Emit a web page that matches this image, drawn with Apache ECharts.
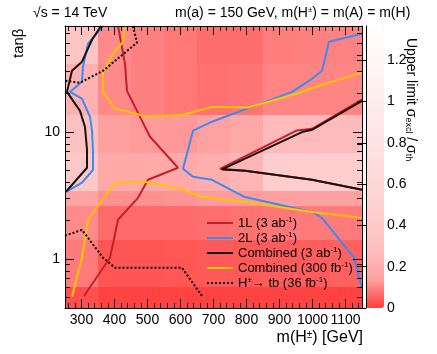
<!DOCTYPE html>
<html>
<head>
<meta charset="utf-8">
<title>Upper limit scan</title>
<script src="https://cdn.jsdelivr.net/npm/echarts@6/dist/echarts.min.js"></script>
<style>
html, body { margin: 0; padding: 0; background: #fff; }
#chart { width: 437px; height: 354px; }
</style>
</head>
<body>
<div id="chart"></div>
<script>
const FONT = '"Liberation Sans", Arial, sans-serif'

// bin edges of the limit map
const xEdges = [250, 350, 450, 550, 650, 750, 850, 950, 1050, 1150]
const yEdges = [0.41, 0.6, 1.4, 2.6, 3.4, 6.8, 13.6, 34, 68]

// upper limit per cell, rows from low tanb to high tanb
const limitRows = [
  [0.027, 0.008, 0.008, 0.008, 0.008, 0.008, 0.01, 0.01, 0.01],
  [0.085, 0.034, 0.034, 0.035, 0.04, 0.04, 0.045, 0.045, 0.05],
  [0.106, 0.063, 0.063, 0.065, 0.07, 0.075, 0.08, 0.085, 0.085],
  [0.15, 0.115, 0.115, 0.12, 0.13, 0.13, 0.137, 0.14, 0.14],
  [0.39, 0.18, 0.18, 0.18, 0.2, 0.24, 0.45, 0.45, 0.45],
  [0.31, 0.137, 0.13, 0.126, 0.14, 0.176, 0.27, 0.27, 0.27],
  [0.215, 0.104, 0.093, 0.082, 0.071, 0.078, 0.1, 0.1, 0.1],
  [0.36, 0.106, 0.093, 0.082, 0.068, 0.068, 0.089, 0.093, 0.096]
]

// exclusion contours [m(H+), tanb]
const line1L = [[410.6, 68], [431.8, 34.3], [437.9, 21.0], [477.3, 13.1], [507.6, 9.14], [592.4, 5.21],
  [501.5, 4.19], [471.2, 3.02], [410.6, 2.03], [386.4, 1.02], [307.6, 0.51]]
const line1LWedge = [[1150, 17.9], [998.5, 10.56], [953, 10.24], [719.7, 5.11], [795.5, 4.93], [998.5, 4.19], [1150, 3.49]]
const line2L = [[365, 68], [319.7, 49.3], [304.5, 32.5], [301.5, 24.8], [265, 20.6], [301.5, 18.2], [325.8, 13.1],
  [331.8, 10.2], [334.8, 7.22], [334.8, 5.02], [301.5, 3.97], [253, 3.37]]
const line2LRight = [[1150, 59.1], [1050, 51.1], [1028.8, 30.2], [998.5, 26.1], [937.9, 20.6], [695.5, 12.0],
  [637.9, 10.2], [607.6, 5.11], [637.9, 4.42], [695.5, 4.19], [792.4, 3.08], [998.5, 2.34], [1028.8, 2.10],
  [1125.8, 1.02], [1150, 0.58]]
const lineComb = [[359, 68], [331.8, 53], [301.5, 35.6], [271.2, 30.2], [256, 20.6], [295.5, 14.6], [310.6, 10.9],
  [316.7, 7.22], [316.7, 5.21], [253, 3.37]]
const lineCombWedge = [[1150, 17.5], [998.5, 10.37], [968.2, 9.95], [725.8, 5.05], [795.5, 4.93], [998.5, 4.19], [1150, 3.49]]
const lineComb300 = [[431.8, 68], [425.8, 51.1], [395.5, 41.1], [365.2, 29.7], [365.2, 20.6], [401.5, 15.2],
  [501.5, 13.1], [607.6, 13.6], [698.5, 15.7], [804.5, 15.5], [962, 20.3], [1001.5, 22.2], [1150, 29.2]]
const lineComb300Low = [[271.2, 0.502], [301.5, 1.02], [319.7, 2.03], [401.5, 3.97], [492.4, 4.04], [592.4, 3.62],
  [665.2, 3.08], [792.4, 2.81], [998.5, 2.34], [1150, 2.10]]
const lineTb = [[456, 68], [468.2, 50.2], [365.2, 30.2], [295.5, 24.3], [250, 25.2]]
const lineTbLow = [[250, 1.52], [301.5, 1.69], [365.2, 1.02], [401.5, 0.85], [604.5, 0.85], [665.2, 0.51]]

// ticks
const xMajor = [300, 400, 500, 600, 700, 800, 900, 1000, 1100]
const xMinor = []
for (let v = 260; v < 1150; v += 20) if (v % 100 !== 0) xMinor.push(v)
const yMajor = [1, 10]
const yMinor = [0.5, 0.6, 0.7, 0.8, 0.9, 2, 3, 4, 5, 6, 7, 8, 9, 20, 30, 40, 50, 60]
const zMajor = [0, 0.2, 0.4, 0.6, 0.8, 1, 1.2]
const Z_MAX = 1.366

const barColors = ['#ff3c3c', '#ffa0a0', '#ffbcbc', '#ffcaca', '#ffd4d4', '#ffdcdc',
  '#ffe3e3', '#ffeaea', '#fff1f1', '#fff8f8', '#ffffff']

const RED = '#c81e28'
const BLUE = '#3d8bf2'
const BLACK = '#151510'
const YELLOW = '#ffc400'

const cells = []
limitRows.forEach((row, j) => {
  row.forEach((v, i) => {
    cells.push([xEdges[i], xEdges[i + 1], yEdges[j], yEdges[j + 1], v])
  })
})

const renderCell = (params, api) => {
  const p0 = api.coord([api.value(0), api.value(3)])
  const p1 = api.coord([api.value(1), api.value(2)])
  const x0 = Math.round(p0[0])
  const y0 = Math.round(p0[1])
  const x1 = Math.round(p1[0])
  const y1 = Math.round(p1[1])
  return {
    type: 'rect',
    shape: { x: x0, y: y0, width: x1 - x0, height: y1 - y0 },
    style: { fill: api.visual('color') }
  }
}

const line = { color: '#000', width: 1 }
const xBase = { type: 'value', min: 250, max: 1150, gridIndex: 0, z: 5, splitLine: { show: false } }
const yBase = { type: 'log', logBase: 10, min: 0.41, max: 68, gridIndex: 0, z: 5, splitLine: { show: false } }

const contour = (name, data, color, dotted) => ({
  name,
  type: 'line',
  data,
  xAxisIndex: 0,
  yAxisIndex: 0,
  symbol: 'none',
  z: 3,
  silent: true,
  lineStyle: { color, width: 2, type: dotted ? [2, 2] : 'solid' },
  itemStyle: { color }
})

const names = ['1L (3 ab-1)', '2L (3 ab-1)', 'Combined (3 ab-1)', 'Combined (300 fb-1)', 'H±→ tb (36 fb-1)']

const chart = echarts.init(document.getElementById('chart'))

chart.setOption({
  animation: false,
  backgroundColor: '#fff',
  textStyle: { fontFamily: FONT },
  grid: [
    { left: 65, top: 26, width: 297, height: 282, show: false },
    { left: 366, top: 26, width: 18, height: 282, show: false }
  ],
  xAxis: [
    {
      ...xBase, position: 'bottom',
      axisLine: { show: true, lineStyle: line },
      axisTick: { inside: true, length: 9, customValues: xMajor, lineStyle: line },
      axisLabel: {
        customValues: xMajor, margin: 5, color: '#000', fontSize: 14, fontFamily: FONT,
        formatter: (v) => String(v)
      }
    },
    {
      ...xBase, position: 'top',
      axisLine: { show: true, lineStyle: line },
      axisTick: { inside: true, length: 9, customValues: xMajor, lineStyle: line },
      axisLabel: { show: false }
    },
    {
      ...xBase, position: 'bottom',
      axisLine: { show: false },
      axisTick: { inside: true, length: 5, customValues: xMinor, lineStyle: line },
      axisLabel: { show: false }
    },
    {
      ...xBase, position: 'top',
      axisLine: { show: false },
      axisTick: { inside: true, length: 5, customValues: xMinor, lineStyle: line },
      axisLabel: { show: false }
    },
    { type: 'value', gridIndex: 1, min: 0, max: 1, show: false }
  ],
  yAxis: [
    {
      ...yBase, position: 'left',
      axisLine: { show: true, lineStyle: line },
      axisTick: { inside: true, length: 9, customValues: yMajor, lineStyle: line },
      axisLabel: { customValues: yMajor, margin: 5, color: '#000', fontSize: 14, fontFamily: FONT }
    },
    {
      ...yBase, position: 'right',
      axisLine: { show: true, lineStyle: line },
      axisTick: { inside: true, length: 9, customValues: yMajor, lineStyle: line },
      axisLabel: { show: false }
    },
    {
      ...yBase, position: 'left',
      axisLine: { show: false },
      axisTick: { inside: true, length: 5, customValues: yMinor, lineStyle: line },
      axisLabel: { show: false }
    },
    {
      ...yBase, position: 'right',
      axisLine: { show: false },
      axisTick: { inside: true, length: 5, customValues: yMinor, lineStyle: line },
      axisLabel: { show: false }
    },
    {
      type: 'value', gridIndex: 1, position: 'right', min: 0, max: Z_MAX, z: 5,
      splitLine: { show: false },
      axisLine: { show: true, lineStyle: line },
      axisTick: { inside: true, length: 9, customValues: zMajor, lineStyle: line },
      axisLabel: { customValues: zMajor, margin: 3, color: '#000', fontSize: 14, fontFamily: FONT }
    }
  ],
  visualMap: {
    type: 'continuous',
    min: 0,
    max: Z_MAX,
    seriesIndex: 0,
    dimension: 4,
    orient: 'vertical',
    left: 366,
    top: 26,
    itemWidth: 18,
    itemHeight: 282,
    padding: 0,
    calculable: false,
    hoverLink: false,
    inRange: { color: barColors }
  },
  legend: {
    data: names,
    orient: 'vertical',
    left: 206,
    top: 216,
    padding: 0,
    itemWidth: 26,
    itemHeight: 12,
    itemGap: 1,
    selectedMode: false,
    itemStyle: { opacity: 0 },
    textStyle: {
      color: '#000', fontSize: 13, fontFamily: FONT, lineHeight: 14,
      rich: { sup: { fontSize: 8, verticalAlign: 'top', lineHeight: 14, fontFamily: FONT } }
    },
    formatter: (n) => n.replace('-1', '{sup|-1}').replace('±', '{sup|±}')
  },
  graphic: [
    {
      type: 'text', x: 33, y: 13,
      style: { text: '√s = 14 TeV', font: '14px ' + FONT, fill: '#000', verticalAlign: 'middle' }
    },
    {
      type: 'text', x: 175, y: 13,
      style: {
        text: 'm(a) = 150 GeV, m(H{sup|±}) = m(A) = m(H)', font: '14px ' + FONT, fill: '#000', verticalAlign: 'middle',
        rich: { sup: { fontSize: 8, verticalAlign: 'top', fontFamily: FONT } }
      }
    },
    {
      type: 'text', x: 19, y: 58, rotation: Math.PI / 2,
      style: { text: 'tanβ', font: '15px ' + FONT, fill: '#000', align: 'left', verticalAlign: 'middle' }
    },
    {
      type: 'text', x: 363, y: 338,
      style: {
        text: 'm(H{sup|±}) [GeV]', font: '16px ' + FONT, fill: '#000', align: 'right', verticalAlign: 'middle',
        rich: { sup: { fontSize: 10, verticalAlign: 'top', fontFamily: FONT } }
      }
    },
    {
      type: 'text', x: 411, y: 38, rotation: -Math.PI / 2,
      style: {
        text: 'Upper limit σ{sub|excl} / σ{sub|th}', font: '14px ' + FONT, fill: '#000', align: 'left', verticalAlign: 'middle',
        rich: { sub: { fontSize: 9, verticalAlign: 'bottom', fontFamily: FONT } }
      }
    }
  ],
  series: [
    {
      type: 'custom',
      renderItem: renderCell,
      data: cells,
      encode: { x: [0, 1], y: [2, 3] },
      xAxisIndex: 0,
      yAxisIndex: 0,
      clip: true,
      silent: true,
      z: 1
    },
    contour(names[0], line1L, RED),
    contour(names[0], line1LWedge, RED),
    contour(names[1], line2L, BLUE),
    contour(names[1], line2LRight, BLUE),
    contour(names[2], lineComb, BLACK),
    contour(names[2], lineCombWedge, BLACK),
    contour(names[3], lineComb300, YELLOW),
    contour(names[3], lineComb300Low, YELLOW),
    contour(names[4], lineTb, '#000', true),
    contour(names[4], lineTbLow, '#000', true)
  ]
})
</script>
</body>
</html>
